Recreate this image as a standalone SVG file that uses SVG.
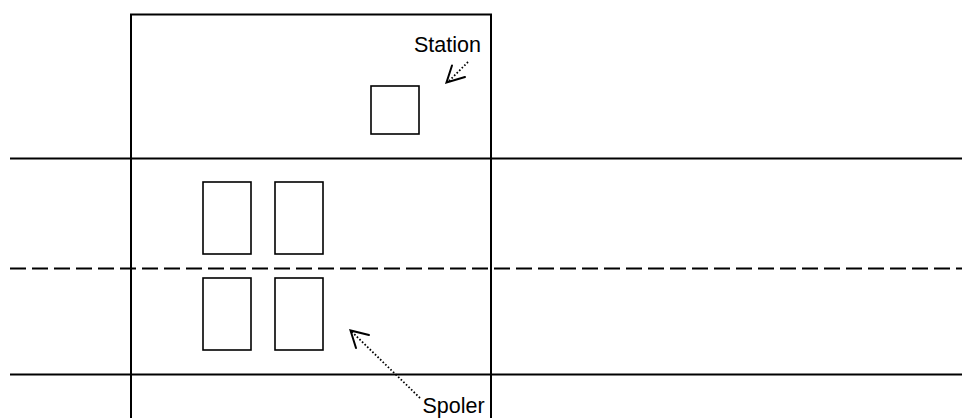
<svg xmlns="http://www.w3.org/2000/svg" width="962" height="418" viewBox="0 0 962 418">
<style>
.s{fill:none;stroke:#000;stroke-width:2}
.r{fill:none;stroke:#000;stroke-width:1.6}
.d{fill:none;stroke:#000;stroke-width:1.8;stroke-dasharray:1.6 2}
.h{fill:none;stroke:#000;stroke-width:2;stroke-linecap:round;stroke-linejoin:miter}
text{font-family:"Liberation Sans",Arial,sans-serif;font-size:21.500px;fill:#000}
</style>
<rect width="962" height="418" fill="#fff"/>
<g id="connectors">
<path class="s" d="M10 158.500H962M10 374.500H962"/>
<path class="s" d="M10 268.500H962" stroke-dasharray="16 6"/>
<path class="s" d="M131 418V14.500H491V418"/>
<path class="d" d="M468 62L449 81"/>
<path class="h" d="M452 65.500L446.500 82.500L465 77"/>
<path class="d" d="M420 398L351 331"/>
<path class="h" d="M356 348L350.500 330.500L369 335"/>
</g>
<g id="station"><rect class="r" x="371" y="86" width="48" height="48"/></g>
<g id="spoler-1"><rect class="r" x="203" y="182" width="48" height="72"/></g>
<g id="spoler-2"><rect class="r" x="275" y="182" width="48" height="72"/></g>
<g id="spoler-3"><rect class="r" x="203" y="278" width="48" height="72"/></g>
<g id="spoler-4"><rect class="r" x="275" y="278" width="48" height="72"/></g>
<g id="label-station"><text x="414" y="52">Station</text></g>
<g id="label-spoler"><text x="422.500" y="413">Spoler</text></g>
</svg>
